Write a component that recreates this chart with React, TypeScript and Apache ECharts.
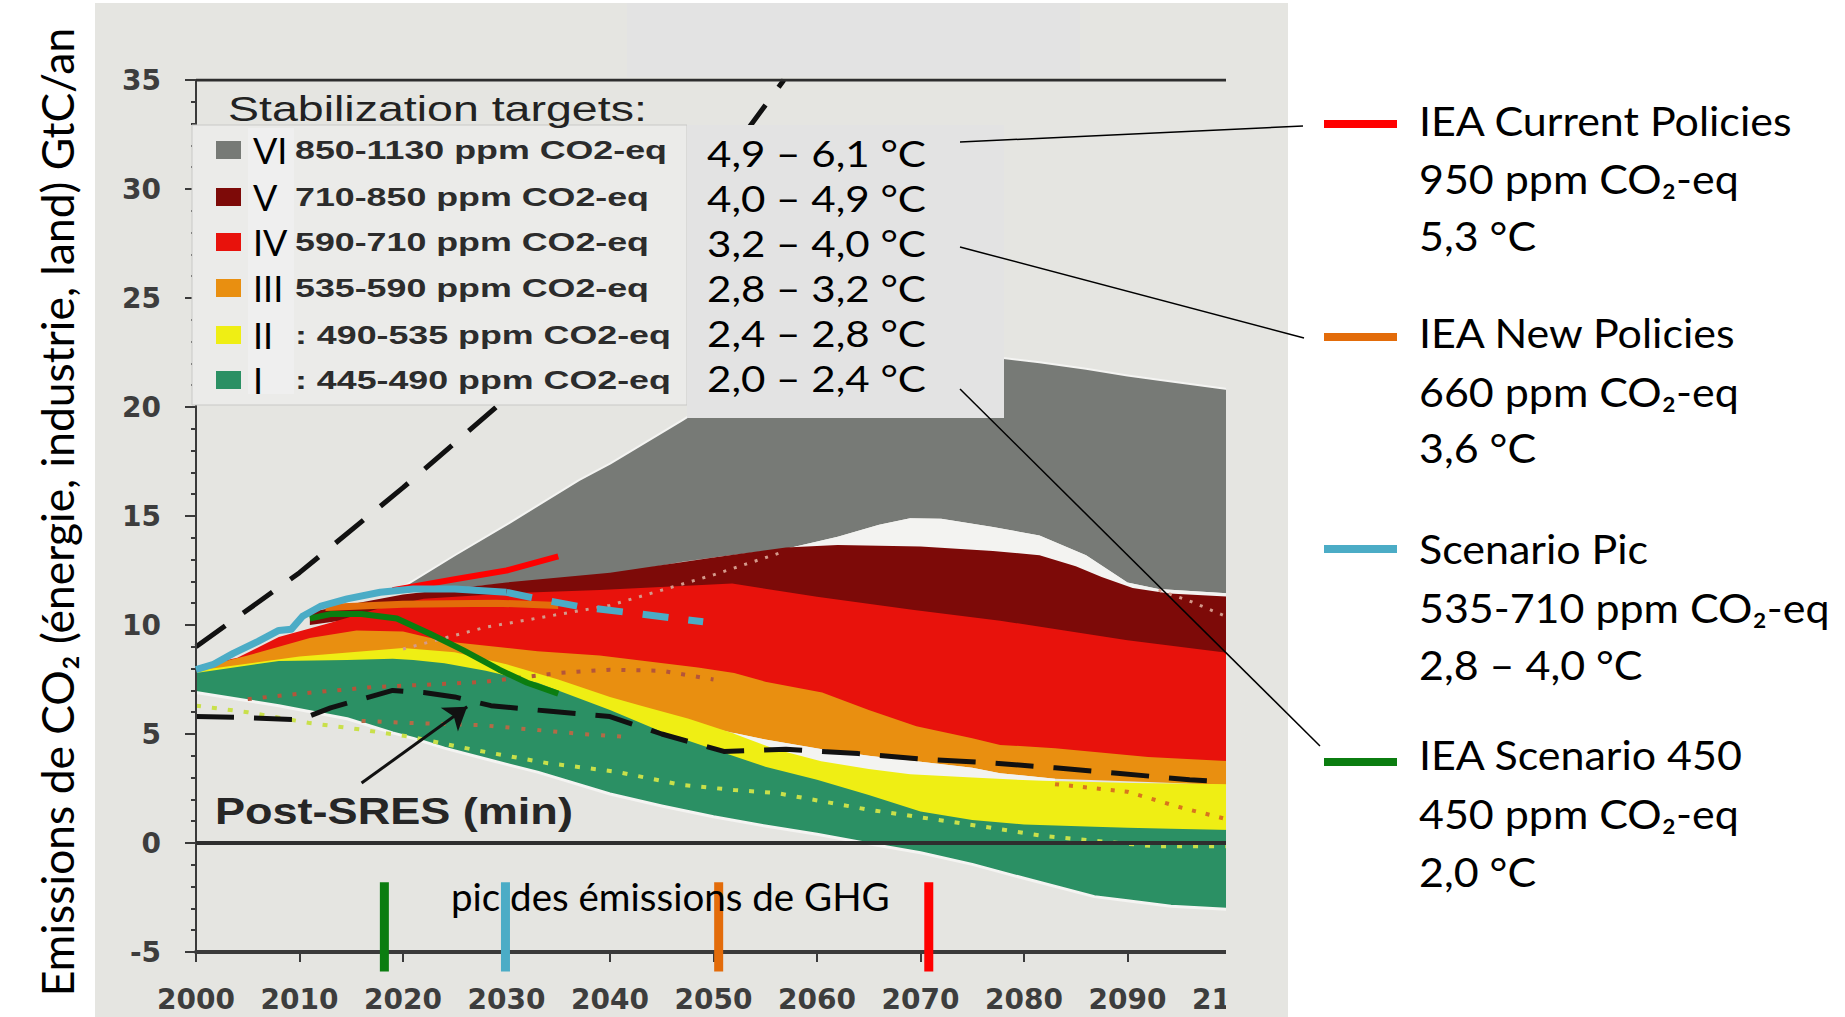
import React, { useEffect, useRef } from 'react';
import * as echarts from 'echarts';

// ---------------- DATA ----------------
const xMin = 2000;
const xMax = 2100;
const yMin = -5;
const yMax = 35;

// Category VI (grey) 850-1130 ppm
const bandVIYears = [2019.5, 2025, 2030, 2037, 2040, 2047, 2050, 2057, 2062, 2066, 2069, 2072, 2077, 2081.5, 2086, 2090, 2093, 2100];
const bandVIUpper = [11.6, 13.2, 14.6, 16.65, 17.4, 19.4, 20.3, 22.5, 22.5, 22.45, 22.4, 22.4, 22.3, 22.05, 21.75, 21.45, 21.25, 20.8];
const bandVILower = [11.5, 11.7, 11.9, 12.2, 12.3, 12.9, 13.1, 13.5, 14.05, 14.6, 14.9, 14.87, 14.5, 14.1, 13.2, 11.95, 11.65, 11.45];

// white gap between VI and V
const gapAYears = [2050, 2057, 2062, 2066, 2069, 2072, 2077, 2081.5, 2086, 2090, 2093, 2100];
const gapAUpper = [13.1, 13.5, 14.05, 14.6, 14.9, 14.87, 14.5, 14.1, 13.2, 11.95, 11.65, 11.45];
const gapALower = [12.5, 12.5, 12.5, 12.5, 12.5, 12.5, 12.5, 12.5, 12.0, 11.2, 11.0, 11.0];

// Category V (dark red) 710-850 ppm
const bandVYears = [2011, 2020, 2030, 2040, 2050, 2057, 2062, 2070, 2077, 2081.5, 2085, 2087.5, 2090.5, 2094, 2100];
const bandVUpper = [10.6, 11.4, 11.95, 12.4, 13.1, 13.55, 13.67, 13.6, 13.4, 13.2, 12.7, 12.2, 11.7, 11.45, 11.3];
const bandVLower = [10.0, 10.6, 10.9, 11.0, 11.3, 10.9, 10.7, 10.2, 9.8, 9.6, 9.4, 9.2, 9.0, 8.8, 8.4];

// Category IV (red) 590-710 ppm
const bandIVYears = [2000, 2004, 2008, 2013, 2018, 2022, 2030, 2039, 2051.8, 2060, 2069.2, 2077.7, 2090, 2100];
const bandIVUpper = [8.1, 8.5, 9.45, 10.1, 10.8, 11.2, 11.45, 11.6, 11.9, 11.3, 10.7, 10.2, 9.3, 8.7];
const bandIVLower = [7.6, 8.0, 8.6, 9.0, 9.2, 8.8, 8.3, 8.1, 7.3, 6.4, 4.9, 4.1, 3.6, 3.3];

// Category III (orange) 535-590 ppm
const bandIIIYears = [2000, 2005, 2011, 2015.5, 2020, 2024, 2033, 2039, 2048.5, 2052, 2055, 2060.5, 2065, 2069.6, 2075, 2077.7, 2083, 2092, 2100];
const bandIIIUpper = [8.0, 8.6, 9.4, 9.75, 9.7, 9.25, 8.8, 8.6, 8.05, 7.8, 7.4, 6.9, 6.1, 5.35, 4.8, 4.5, 4.35, 3.95, 3.75];
const bandIIILower = [7.8, 8.1, 8.5, 8.7, 8.85, 8.7, 7.7, 6.7, 5.4, 5.05, 4.75, 4.3, 4.0, 3.75, 3.45, 3.2, 2.95, 2.8, 2.65];

// white gap between III and II
const gapBYears = [2052, 2055, 2060.5, 2065, 2069.6, 2075, 2077.7, 2083];
const gapBUpper = [5.05, 4.75, 4.3, 4.0, 3.75, 3.45, 3.2, 2.95];
const gapBLower = [4.8, 4.2, 3.5, 3.2, 3.0, 2.8, 2.7, 2.6];

// Category II (yellow) 490-535 ppm
const bandIIYears = [2000, 2010, 2020, 2025, 2030, 2035, 2040, 2043, 2047.6, 2051.8, 2056, 2060.4, 2065, 2069, 2075, 2081.8, 2090.5, 2100];
const bandIIUpper = [7.9, 8.55, 8.95, 8.75, 8.2, 7.5, 6.7, 6.3, 5.7, 5.05, 4.3, 3.75, 3.4, 3.15, 3.0, 2.85, 2.75, 2.7];
const bandIILower = [7.5, 8.0, 8.1, 7.9, 7.4, 6.8, 5.8, 5.2, 4.4, 3.9, 3.1, 2.5, 1.9, 1.2, 0.8, 0.6, 0.4, 0.3];

// Category I (green) 445-490 ppm
const bandIYears = [2000, 2008, 2014.6, 2019, 2021, 2024, 2028, 2033, 2040, 2045, 2050, 2055, 2060, 2065, 2070, 2075, 2080, 2086.8, 2090, 2094.2, 2100];
const bandIUpper = [7.8, 8.35, 8.4, 8.45, 8.4, 8.25, 7.9, 7.35, 6.1, 5.1, 4.3, 3.5, 2.9, 2.2, 1.45, 1.05, 0.85, 0.75, 0.7, 0.65, 0.6];
const bandILower = [6.9, 6.3, 5.7, 5.05, 4.8, 4.35, 3.85, 3.25, 2.25, 1.7, 1.2, 0.78, 0.4, -0.03, -0.45, -0.98, -1.62, -2.46, -2.65, -2.9, -3.05];

// Post-SRES dashed envelopes
const postSresMaxYears = [2000, 2010, 2020, 2030, 2040, 2050, 2056.8];
const postSresMaxValues = [9.0, 12.4, 16.3, 20.4, 25.1, 30.6, 35];
const postSresMinYears = [2000, 2005, 2010, 2013, 2016, 2019, 2022, 2025, 2028.5, 2034, 2040, 2045, 2051, 2057, 2064, 2070, 2076, 2083, 2089, 2096, 2100];
const postSresMinValues = [5.8, 5.75, 5.65, 6.2, 6.6, 7.0, 6.9, 6.7, 6.3, 6.05, 5.8, 5.0, 4.2, 4.3, 4.1, 3.85, 3.7, 3.45, 3.2, 2.9, 2.8];
const arrowFrom = [2016, 2.75];
const arrowTo = [2026.2, 6.25];

// dotted median lines
const dotBrownYears = [2005, 2010, 2017, 2024, 2028, 2035, 2040, 2045, 2050];
const dotBrownValues = [6.6, 6.85, 7.15, 7.3, 7.4, 7.8, 7.95, 7.9, 7.5];
const dotPinkYears = [2020, 2028, 2040, 2050, 2057];
const dotPinkValues = [8.9, 9.9, 10.9, 12.3, 13.4];
const dotPinkEndYears = [2093, 2096, 2099.5];
const dotPinkEndValues = [11.6, 11.1, 10.4];
const dotLimeYears = [2000, 2005, 2011, 2016, 2020.7, 2027, 2034, 2040.6, 2047, 2052, 2056, 2064.7, 2075.4, 2081.8, 2092.6, 2099.5];
const dotLimeValues = [6.3, 6.0, 5.5, 5.2, 4.87, 4.26, 3.66, 3.27, 2.66, 2.43, 2.3, 1.55, 0.8, 0.33, -0.15, -0.15];
const dotRustYears = [2016, 2021, 2027.7, 2037.4, 2042.2];
const dotRustValues = [5.6, 5.5, 5.4, 5.0, 4.85];
const dotAmberYears = [2083, 2090, 2095, 2099.5];
const dotAmberValues = [2.7, 2.35, 1.65, 1.1];

// IEA scenarios
const scenarioPicYears = [2000, 2001.7, 2003.6, 2006, 2008, 2009.2, 2010.3, 2012, 2014.6, 2017.8, 2021, 2025, 2030];
const scenarioPicValues = [7.95, 8.2, 8.7, 9.25, 9.75, 9.8, 10.4, 10.85, 11.2, 11.5, 11.65, 11.65, 11.5];
const scenarioPicDashYears = [2030, 2033, 2037, 2043, 2049];
const scenarioPicDashValues = [11.5, 11.2, 10.85, 10.5, 10.15];
const iea450Years = [2011, 2013, 2016, 2019.4, 2022.6, 2025.8, 2029.3, 2032, 2035];
const iea450Values = [10.3, 10.5, 10.5, 10.3, 9.6, 8.85, 7.95, 7.35, 6.85];
const ieaCurrentYears = [2019, 2025, 2030, 2035];
const ieaCurrentValues = [11.6, 12.1, 12.5, 13.15];
const ieaNewYears = [2012.5, 2020, 2029, 2035];
const ieaNewValues = [10.8, 10.95, 11.0, 10.9];

// peak-of-emissions markers
const peakYears = [2018.2, 2029.9, 2050.5, 2070.8];
const peakColors = ['#0b7d10', '#4bacc6', '#e36c0a', '#ff0000'];
const peakTop = -1.8;
const peakBottom = -5.9;

// texts
const yAxisTitle = 'Emissions de CO\u2082 (énergie, industrie, land) GtC/an';
const stabilizationTitle = 'Stabilization targets:';
const romanNumerals = ['VI', 'V', 'IV', 'III', 'II', 'I'];
const stabilizationLabels = ['850-1130 ppm CO2-eq', '710-850 ppm CO2-eq', '590-710 ppm CO2-eq', '535-590 ppm CO2-eq', ': 490-535 ppm CO2-eq', ': 445-490 ppm CO2-eq'];
const bandColors = ['#777a76', '#7d0a08', '#e8120c', '#e98f10', '#efee14', '#2b9064'];
const tempRanges = ['4,9 \u2013 6,1 °C', '4,0 \u2013 4,9 °C', '3,2 \u2013 4,0 °C', '2,8 \u2013 3,2 °C', '2,4 \u2013 2,8 °C', '2,0 \u2013 2,4 °C'];
const scenarioNames = ['IEA Current Policies', 'IEA New Policies', 'Scenario Pic', 'IEA Scenario 450'];
const scenarioPpm = ['950 ppm CO\u2082-eq', '660 ppm CO\u2082-eq', '535-710 ppm CO\u2082-eq', '450 ppm CO\u2082-eq'];
const scenarioTemps = ['5,3 °C', '3,6 °C', '2,8 \u2013 4,0 °C', '2,0 °C'];
const scenarioColors = ['#ff0000', '#e36c0a', '#4bacc6', '#0b7d10'];
const peakText = 'pic des émissions de GHG';
const postSresText = 'Post-SRES (min)';

// ---------------- LAYOUT ----------------
const W = 1845;
const H = 1017;
const PANEL = '#e5e5e1';
const GAP = '#f3f3f1';
const HALO = '#f4f4f2';
const CAL = "Lato, 'Noto Sans', sans-serif";
const ARIAL = "'Liberation Sans', Arial, sans-serif";
const DEJAVU = "'DejaVu Sans', sans-serif";

function measureWidth(text: string, font: string): number {
  const canvas = document.createElement('canvas');
  const ctx = canvas.getContext('2d');
  if (!ctx) return text.length * 12;
  ctx.font = font;
  return ctx.measureText(text).width;
}

function pairs(xs: number[], ys: number[]) {
  return xs.map((x, i) => [x, ys[i]]);
}

// a filled range band between lower and upper, drawn through the cartesian scales
function bandSeries(id: string, xs: number[], lower: number[], upper: number[], color: string) {
  return {
    type: 'custom',
    name: id,
    silent: true,
    clip: true,
    z: 2,
    data: xs.map((x, i) => [x, lower[i], upper[i]]),
    encode: { x: 0, y: [1, 2] },
    renderItem: (params: any, api: any) => {
      if (params.dataIndex !== 0) return null;
      const n = xs.length;
      const pts: number[][] = [];
      for (let i = 0; i < n; i++) pts.push(api.coord([api.value(0, i), api.value(2, i)]));
      for (let i = n - 1; i >= 0; i--) pts.push(api.coord([api.value(0, i), api.value(1, i)]));
      return { type: 'polygon', shape: { points: pts }, style: { fill: color, stroke: null } };
    },
  };
}

function lineSeries(name: string, xs: number[], ys: number[], color: string, width: number, type: any, extra: any = {}) {
  return {
    type: 'line', name, data: pairs(xs, ys), symbol: 'none', showSymbol: false, silent: true,
    lineStyle: { color, width, type, cap: 'butt', join: 'round' }, z: 3, ...extra,
  };
}

function textEl(text: string, x: number, y: number, font: string, fill: string, opts: any = {}) {
  const align = opts.align || 'left';
  const style: any = {
    text, x: 0, y: 0, font, fill,
    align, verticalAlign: 'middle', textAlign: align, textVerticalAlign: 'middle',
  };
  if (opts.lineHeight) style.lineHeight = opts.lineHeight;
  return {
    type: 'text', x, y, z: 60, silent: true,
    scaleX: opts.scaleX ?? 1, rotation: opts.rotation ?? 0,
    style,
  };
}

function rectEl(x: number, y: number, w: number, h: number, fill: string, z: number, stroke?: string) {
  return {
    type: 'rect', z, silent: true,
    shape: { x, y, width: w, height: h },
    style: stroke ? { fill, stroke, lineWidth: 1 } : { fill },
  };
}

function lineEl(x1: number, y1: number, x2: number, y2: number, color: string, width: number) {
  return { type: 'line', z: 62, silent: true, shape: { x1, y1, x2, y2 }, style: { stroke: color, lineWidth: width } };
}

function buildOption() {
  const LEG_FS = 41;
  const TEMP_FS = 36.5;
  const PIC_FS = 38;
  const legendScale = 374 / measureWidth(scenarioNames[0], `${LEG_FS}px ${CAL}`);
  const tempScale = 219 / measureWidth(tempRanges[0], `${TEMP_FS}px ${CAL}`);
  const picScale = 439 / measureWidth(peakText, `${PIC_FS}px ${CAL}`);
  const titleFs = (46 * 968) / measureWidth(yAxisTitle, `46px ${CAL}`);
  const ppmScale = 372 / measureWidth(stabilizationLabels[0], `bold 25px ${ARIAL}`);
  const stabScale = 419 / measureWidth(stabilizationTitle, `35px ${ARIAL}`);
  const postScale = 358 / measureWidth(postSresText, `bold 36px ${ARIAL}`);

  const rowYs = [150, 197, 242, 288, 335, 380];
  const groupYs = [[120, 178, 235], [332, 391, 447], [548, 607, 664], [754, 813, 871]];
  const swatchYs = [124, 337, 549, 762];

  const graphics: any[] = [];
  // panel background
  graphics.push(rectEl(95, 3, 1193, 1014, PANEL, -10));
  graphics.push(rectEl(627, 3, 453, 74, '#e3e3e3', -9));
  // cover for the cut-off right edge of the original figure
  graphics.push(rectEl(1226, 3, 62, 1014, PANEL, 10));
  // y axis title
  graphics.push(textEl(yAxisTitle, 56, 512, `${titleFs.toFixed(1)}px ${CAL}`, '#000', { align: 'center', rotation: Math.PI / 2 }));
  // stabilization legend
  graphics.push(textEl(stabilizationTitle, 228, 109, `35px ${ARIAL}`, '#222', { scaleX: stabScale }));
  graphics.push(rectEl(192, 125, 495, 280, '#ebebe9', 50, '#c9c9c7'));
  graphics.push(rectEl(248, 128, 46, 266, '#efefef', 51));
  romanNumerals.forEach((r, i) => {
    graphics.push(rectEl(216, rowYs[i] - 9, 25, 18, bandColors[i], 52));
    graphics.push(textEl(r, 253, rowYs[i], `36px ${CAL}`, '#000'));
    graphics.push(textEl(stabilizationLabels[i], 295, rowYs[i], `bold 25px ${ARIAL}`, '#2c2c2c', { scaleX: ppmScale }));
  });
  // temperature box (one multi-line text)
  graphics.push(rectEl(687, 125, 317, 293, '#e3e3e3', 50));
  graphics.push(textEl(tempRanges.join('\n'), 707, 265.5, `${TEMP_FS}px ${CAL}`, '#000', { lineHeight: 45, scaleX: tempScale }));
  // connectors
  graphics.push(lineEl(960, 142, 1303, 126, '#000', 1.5));
  graphics.push(lineEl(960, 247, 1304, 338, '#000', 1.5));
  graphics.push(lineEl(960, 389, 1320, 746, '#000', 1.5));
  // right legend
  scenarioNames.forEach((n, i) => {
    graphics.push(rectEl(1324, swatchYs[i] - 4, 73, 8, scenarioColors[i], 60));
    graphics.push(textEl(n, 1419, groupYs[i][0], `${LEG_FS}px ${CAL}`, '#000', { scaleX: legendScale }));
    graphics.push(textEl(scenarioPpm[i], 1419, groupYs[i][1], `${LEG_FS}px ${CAL}`, '#000', { scaleX: legendScale }));
    graphics.push(textEl(scenarioTemps[i], 1419, groupYs[i][2], `${LEG_FS}px ${CAL}`, '#000', { scaleX: legendScale }));
  });
  // annotations
  graphics.push(textEl(peakText, 451, 896, `${PIC_FS}px ${CAL}`, '#000', { scaleX: picScale }));
  graphics.push(textEl(postSresText, 215, 812, `bold 36px ${ARIAL}`, '#262626', { scaleX: postScale }));

  const series: any[] = [
    bandSeries('VI', bandVIYears, bandVILower, bandVIUpper, bandColors[0]),
    lineSeries('VI edge', bandVIYears, bandVIUpper, HALO, 2, 'solid', { z: 2 }),
    bandSeries('gapA', gapAYears, gapALower, gapAUpper, GAP),
    bandSeries('V', bandVYears, bandVLower, bandVUpper, bandColors[1]),
    bandSeries('IV', bandIVYears, bandIVLower, bandIVUpper, bandColors[2]),
    bandSeries('III', bandIIIYears, bandIIILower, bandIIIUpper, bandColors[3]),
    bandSeries('gapB', gapBYears, gapBLower, gapBUpper, GAP),
    bandSeries('II', bandIIYears, bandIILower, bandIIUpper, bandColors[4]),
    bandSeries('I', bandIYears, bandILower, bandIUpper, bandColors[5]),
    lineSeries('I edge', bandIYears, bandILower, HALO, 3, 'solid', { z: 2 }),
    lineSeries('dotPink', dotPinkYears, dotPinkValues, '#d49a8c', 3, [3, 8]),
    lineSeries('dotPinkEnd', dotPinkEndYears, dotPinkEndValues, '#d49a8c', 3, [3, 8]),
    lineSeries('dotBrown', dotBrownYears, dotBrownValues, '#b4553a', 4, [4, 11]),
    lineSeries('dotRust', dotRustYears, dotRustValues, '#b46a46', 4, [4, 12]),
    lineSeries('dotLime', dotLimeYears, dotLimeValues, '#c9e04a', 4, [5, 11]),
    lineSeries('dotAmber', dotAmberYears, dotAmberValues, '#d8751e', 4, [4, 10]),
    lineSeries('postSresMax', postSresMaxYears, postSresMaxValues, '#111', 5, [36, 22]),
    lineSeries('postSresMin', postSresMinYears, postSresMinValues, '#111', 5, [38, 20], {
      markLine: {
        silent: true, symbol: ['none', 'arrow'], symbolSize: 22,
        lineStyle: { type: 'solid', color: '#111', width: 3 },
        label: { show: false },
        data: [[{ coord: arrowFrom }, { coord: arrowTo }]],
      },
    }),
    lineSeries('IEA New Policies', ieaNewYears, ieaNewValues, scenarioColors[1], 7, 'solid', { z: 4 }),
    lineSeries('IEA Current Policies', ieaCurrentYears, ieaCurrentValues, scenarioColors[0], 6, 'solid', { z: 4 }),
    lineSeries('IEA Scenario 450', iea450Years, iea450Values, scenarioColors[3], 6, 'solid', { z: 4 }),
    lineSeries('Scenario Pic', scenarioPicYears, scenarioPicValues, scenarioColors[2], 7, 'solid', { z: 5 }),
    lineSeries('Scenario Pic dashed', scenarioPicDashYears, scenarioPicDashValues, scenarioColors[2], 7, [26, 20], { z: 5 }),
    lineSeries('zero', [xMin, xMax], [0, 0], '#2e2e2e', 4, 'solid', { z: 6 }),
    lineSeries('top', [xMin, xMax], [yMax, yMax], '#2e2e2e', 3, 'solid', { z: 6 }),
    ...peakYears.map((yr, i) =>
      lineSeries('peak' + i, [yr, yr], [peakTop, peakBottom], peakColors[i], 9, 'solid', { z: 20, clip: false })
    ),
  ];

  return {
    animation: false,
    backgroundColor: '#ffffff',
    grid: { left: 196, top: 80, width: 1035, height: 872, containLabel: false },
    xAxis: {
      type: 'value', min: xMin, max: xMax, interval: 10, z: 5,
      axisLine: { show: true, onZero: false, lineStyle: { color: '#3a3a3a', width: 4 } },
      axisTick: { show: true, length: 10, lineStyle: { color: '#3a3a3a', width: 2 } },
      axisLabel: { fontFamily: DEJAVU, fontWeight: 'bold', fontSize: 28, color: '#3d3d3d', margin: 33, formatter: (v: number) => String(v) },
      splitLine: { show: false },
    },
    yAxis: {
      type: 'value', min: yMin, max: yMax, interval: 5, z: 5,
      axisLine: { show: true, onZero: false, lineStyle: { color: '#3a3a3a', width: 2 } },
      axisTick: { show: true, length: 11, lineStyle: { color: '#3a3a3a', width: 2 } },
      minorTick: { show: true, splitNumber: 5, length: 5, lineStyle: { color: '#3a3a3a', width: 2 } },
      axisLabel: { fontFamily: DEJAVU, fontWeight: 'bold', fontSize: 28, color: '#3d3d3d', margin: 35, formatter: (v: number) => String(v) },
      splitLine: { show: false },
    },
    graphic: { elements: graphics },
    series,
  };
}

export default function App() {
  const ref = useRef<HTMLDivElement>(null);
  useEffect(() => {
    if (!ref.current) return;
    const chart = echarts.init(ref.current, undefined, { renderer: 'svg', width: W, height: H });
    chart.setOption(buildOption() as any);
    return () => chart.dispose();
  }, []);
  return <div ref={ref} style={{ position: 'absolute', left: 0, top: 0, width: W, height: H }} />;
}
